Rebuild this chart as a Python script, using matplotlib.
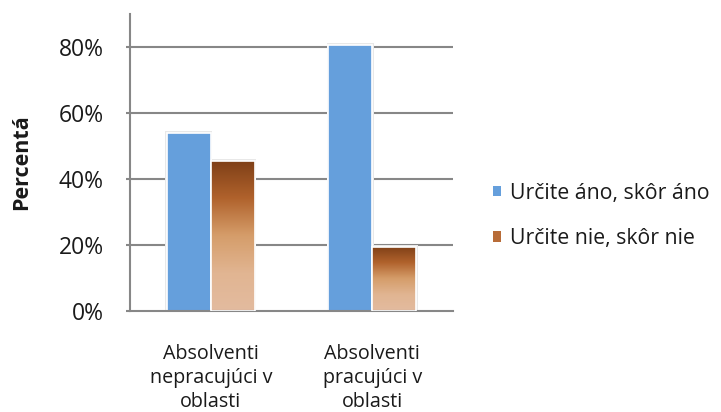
import numpy as np
import matplotlib.pyplot as plt
from matplotlib.colors import LinearSegmentedColormap
from matplotlib.patches import Rectangle

categories = ['Absolventi\nnepracujúci v\noblasti', 'Absolventi\npracujúci v\noblasti']
ano = [54.0, 80.5]
nie = [45.5, 19.4]
series_names = ['Určite áno, skôr áno', 'Určite nie, skôr nie']
yticks = [0, 20, 40, 60, 80]

plt.rcParams['font.family'] = ['Open Sans', 'DejaVu Sans']

fig = plt.figure(figsize=(7.21, 4.12), dpi=100)
ax = fig.add_axes([130 / 721, 1 - 311 / 412, 323 / 721, 297 / 412])

x = np.arange(len(categories))
w = 0.272
blue = '#659fdc'
txt = '#1a1a1a'
brown_cmap = LinearSegmentedColormap.from_list(
    'brown', ['#7e3f17', '#b0622c', '#d59d6a', '#e1b592', '#e3bb9f'])

grey = '#878787'
for v in yticks[1:]:
    ax.axhline(v, color=grey, lw=1.5, zorder=0)

bars_a = ax.bar(x - w / 2, ano, w, color=blue, edgecolor='white', lw=1.2,
                zorder=2, label=series_names[0])
bars_n = ax.bar(x + w / 2, nie, w, color='none', edgecolor='white', lw=1.2,
                zorder=3, label=series_names[1])

# light shadow around bars
for b in list(bars_a) + list(bars_n):
    sh = Rectangle((b.get_x() - 0.01, 0), b.get_width() + 0.02, b.get_height() + 0.6,
                   facecolor='#e8e8e8', edgecolor='none', zorder=1)
    ax.add_patch(sh)

# gradient fill for the brown bars
grad = np.linspace(0, 1, 256).reshape(-1, 1)
for b in bars_n:
    x0, h, bw = b.get_x(), b.get_height(), b.get_width()
    im = ax.imshow(grad, cmap=brown_cmap, aspect='auto',
                   extent=[x0, x0 + bw, 0, h], origin='upper', zorder=2.5)
    im.set_clip_path(b)

ax.set_xlim(-0.5, 1.5)
ax.set_ylim(0, 90)
ax.set_yticks(yticks)
ax.set_yticklabels([f'{v}%' for v in yticks], fontsize=16.5, color=txt)
ax.set_xticks(x)
ax.set_xticklabels(categories, fontsize=14.2, color=txt, linespacing=1.25)
ax.tick_params(axis='y', length=3, width=1.5, color=grey, pad=16)
ax.tick_params(axis='x', length=0, pad=24)

for s in ['top', 'right']:
    ax.spines[s].set_visible(False)
ax.spines['left'].set_color(grey)
ax.spines['left'].set_linewidth(1.5)
ax.spines['bottom'].set_color(grey)
ax.spines['bottom'].set_linewidth(1.5)

ax.set_ylabel('Percentá', fontsize=15.5, fontweight='bold', color=txt, labelpad=19)

legend_handles = [
    Rectangle((0, 0), 1, 1, facecolor=blue, edgecolor='none'),
    Rectangle((0, 0), 1, 1, facecolor='#b86c38', edgecolor='none'),
]
fig.legend(legend_handles, series_names, loc='center left',
           bbox_to_anchor=(493 / 721, 1 - 216 / 412), frameon=False,
           borderpad=0, borderaxespad=0,
           fontsize=15.3, handlelength=0.38, handleheight=0.38, handletextpad=0.42,
           labelspacing=1.15, labelcolor=txt)

fig.savefig('out.png', dpi=100)
